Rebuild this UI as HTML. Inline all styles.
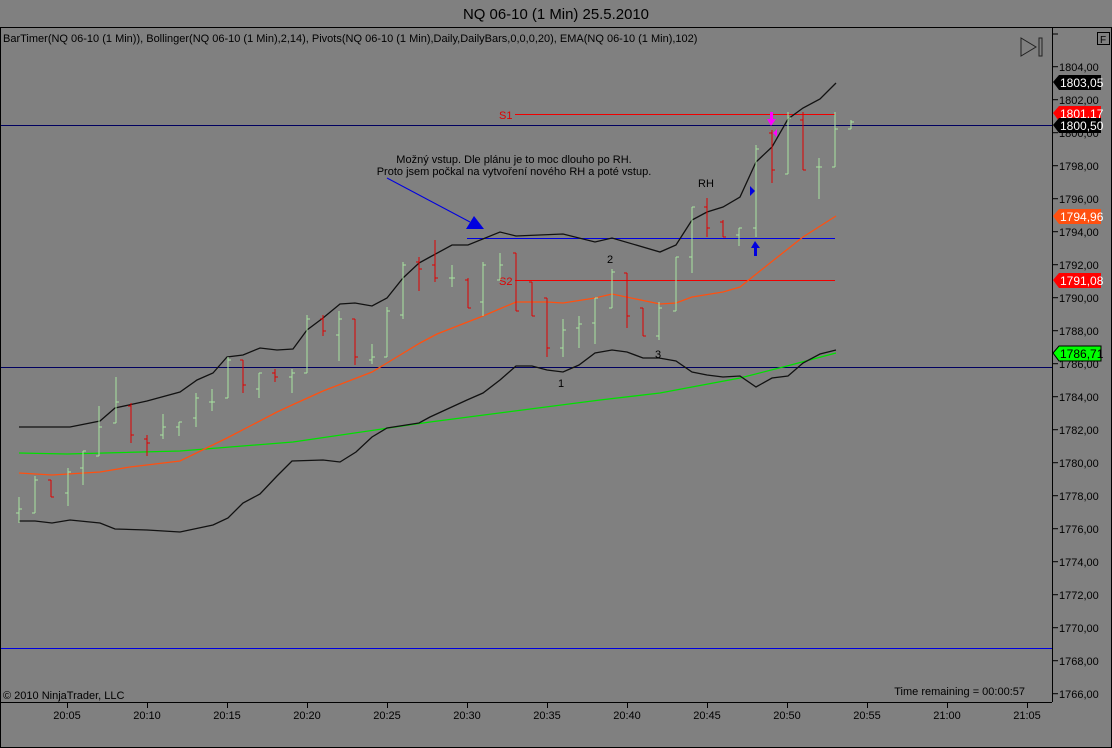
<!DOCTYPE html>
<html><head><meta charset="utf-8"><style>
html,body{margin:0;padding:0;background:#808080;}
svg{display:block;font-family:"Liberation Sans",sans-serif;}
</style></head><body>
<svg width="1112" height="748" viewBox="0 0 1112 748" xmlns="http://www.w3.org/2000/svg">
<rect width="1112" height="748" fill="#808080"/>
<text x="556" y="19" font-size="15" text-anchor="middle" fill="#000" textLength="186" lengthAdjust="spacingAndGlyphs">NQ 06-10 (1 Min)  25.5.2010</text>
<rect x="0.5" y="27.5" width="1111" height="720" fill="none" stroke="#000"/>
<text x="3" y="42" font-size="11" fill="#000">BarTimer(NQ 06-10 (1 Min)), Bollinger(NQ 06-10 (1 Min),2,14), Pivots(NQ 06-10 (1 Min),Daily,DailyBars,0,0,0,20), EMA(NQ 06-10 (1 Min),102)</text>
<rect x="1097.5" y="32.5" width="12" height="12" fill="none" stroke="#000"/>
<text x="1100" y="43" font-size="10" fill="#000">F</text>
<polygon points="1021,38 1021,56 1036,47" fill="none" stroke="#222" stroke-width="1"/>
<rect x="1039" y="38" width="3" height="18" fill="none" stroke="#222"/>
<line x1="1052.5" y1="28" x2="1052.5" y2="702" stroke="#000"/>
<line x1="0" y1="702.5" x2="1052" y2="702.5" stroke="#000"/>
<g stroke="#000">
<line x1="1052" y1="34" x2="1058" y2="34"/>
<line x1="1052" y1="66.7" x2="1058" y2="66.7"/><line x1="1052" y1="99.7" x2="1058" y2="99.7"/><line x1="1052" y1="132.7" x2="1058" y2="132.7"/><line x1="1052" y1="165.7" x2="1058" y2="165.7"/><line x1="1052" y1="198.7" x2="1058" y2="198.7"/><line x1="1052" y1="231.7" x2="1058" y2="231.7"/><line x1="1052" y1="264.7" x2="1058" y2="264.7"/><line x1="1052" y1="297.7" x2="1058" y2="297.7"/><line x1="1052" y1="330.7" x2="1058" y2="330.7"/><line x1="1052" y1="363.7" x2="1058" y2="363.7"/><line x1="1052" y1="396.7" x2="1058" y2="396.7"/><line x1="1052" y1="429.7" x2="1058" y2="429.7"/><line x1="1052" y1="462.7" x2="1058" y2="462.7"/><line x1="1052" y1="495.7" x2="1058" y2="495.7"/><line x1="1052" y1="528.7" x2="1058" y2="528.7"/><line x1="1052" y1="561.7" x2="1058" y2="561.7"/><line x1="1052" y1="594.7" x2="1058" y2="594.7"/><line x1="1052" y1="627.7" x2="1058" y2="627.7"/><line x1="1052" y1="660.7" x2="1058" y2="660.7"/><line x1="1052" y1="693.7" x2="1058" y2="693.7"/>
</g>
<g font-size="11" fill="#000">
<text x="1059" y="71">1804,00</text><text x="1059" y="104">1802,00</text><text x="1059" y="137">1800,00</text><text x="1059" y="170">1798,00</text><text x="1059" y="203">1796,00</text><text x="1059" y="236">1794,00</text><text x="1059" y="269">1792,00</text><text x="1059" y="302">1790,00</text><text x="1059" y="335">1788,00</text><text x="1059" y="368">1786,00</text><text x="1059" y="401">1784,00</text><text x="1059" y="434">1782,00</text><text x="1059" y="467">1780,00</text><text x="1059" y="500">1778,00</text><text x="1059" y="533">1776,00</text><text x="1059" y="566">1774,00</text><text x="1059" y="599">1772,00</text><text x="1059" y="632">1770,00</text><text x="1059" y="665">1768,00</text><text x="1059" y="698">1766,00</text>
</g>
<g stroke="#000">
<line x1="67.5" y1="702" x2="67.5" y2="708"/><line x1="147.5" y1="702" x2="147.5" y2="708"/><line x1="227.5" y1="702" x2="227.5" y2="708"/><line x1="307.5" y1="702" x2="307.5" y2="708"/><line x1="387.5" y1="702" x2="387.5" y2="708"/><line x1="467.5" y1="702" x2="467.5" y2="708"/><line x1="547.5" y1="702" x2="547.5" y2="708"/><line x1="627.5" y1="702" x2="627.5" y2="708"/><line x1="707.5" y1="702" x2="707.5" y2="708"/><line x1="787.5" y1="702" x2="787.5" y2="708"/><line x1="867.5" y1="702" x2="867.5" y2="708"/><line x1="947.5" y1="702" x2="947.5" y2="708"/><line x1="1027.5" y1="702" x2="1027.5" y2="708"/>
</g>
<g font-size="11" fill="#000" text-anchor="middle">
<text x="67" y="719">20:05</text><text x="147" y="719">20:10</text><text x="227" y="719">20:15</text><text x="307" y="719">20:20</text><text x="387" y="719">20:25</text><text x="467" y="719">20:30</text><text x="547" y="719">20:35</text><text x="627" y="719">20:40</text><text x="707" y="719">20:45</text><text x="787" y="719">20:50</text><text x="867" y="719">20:55</text><text x="947" y="719">21:00</text><text x="1027" y="719">21:05</text>
</g>
<text x="3" y="699" font-size="11" fill="#000">© 2010 NinjaTrader, LLC</text>
<text x="1025" y="695" font-size="11" fill="#000" text-anchor="end">Time remaining = 00:00:57</text>
<line x1="1" y1="125.5" x2="1052" y2="125.5" stroke="#000060"/>
<line x1="1" y1="367.5" x2="1052" y2="367.5" stroke="#000060"/>
<line x1="1" y1="648.5" x2="1052" y2="648.5" stroke="#0000e0"/>
<line x1="467" y1="238.5" x2="835" y2="238.5" stroke="#0000e0"/>
<line x1="515" y1="114.5" x2="835" y2="114.5" stroke="#f00000"/>
<line x1="515" y1="280.5" x2="835" y2="280.5" stroke="#f00000"/>
<text x="499" y="119" font-size="11" fill="#e00000">S1</text>
<text x="499" y="285" font-size="11" fill="#e00000">S2</text>
<polyline fill="none" stroke="#00e000" stroke-width="1.3" points="19,453 67,454 180,451 293,442 430,422 600,400 660,393 740,378 787,366 836,353"/>
<polyline fill="none" stroke="#ff5010" stroke-width="1.3" points="19,473 52,475 100,472 130,467 180,461 227,438 277,412 292,405 323,391 372,372 387,363 420,343 437,334 483,316 516,302 547,302 563,303 595,298 612,294 660,304 676,303 692,297 723,292 740,287 770,263 803,237 836,216"/>
<polyline fill="none" stroke="#111" stroke-width="1.3" points="19,427 70,427 100,421 115,408 147,401 180,392 197,380 213,373 227,357 243,355 260,348 277,350 293,349 307,330 323,318 340,304 355,303 372,306 387,298 403,278 419,263 430,257 452,245 468,245 500,232 516,236 563,234 595,242 612,238 660,252 676,245 692,220 707,212 723,207 740,197 756,162 772,147 788,119 803,108 820,99 836,83"/>
<polyline fill="none" stroke="#111" stroke-width="1.3" points="19,521 35,521 52,523 70,520 100,523 115,529 147,530 180,532 213,525 228,518 243,503 260,494 277,476 292,461 323,460 340,462 356,452 372,437 387,428 419,423 430,417 467,400 483,393 500,380 516,366 532,366 547,370 563,372 579,365 595,353 612,350 627,352 643,358 659,358 676,361 692,372 707,375 723,377 740,376 756,387 772,378 788,376 803,363 820,354 836,350"/>
<g stroke="#a8e4a0" stroke-width="1" fill="none" shape-rendering="crispEdges">
<path d="M19,497V523M16,513H19M19,509H22"/>
<path d="M35,476V513M32,513H35M35,480H38"/>
<path d="M68,468V506M65,493H68M68,472H71"/>
<path d="M83,451V485M80,468H83M83,451H86"/>
<path d="M99,406V456M96,456H99M99,427H102"/>
<path d="M116,377V423M113,423H116M116,402H119"/>
<path d="M163,414V439M160,435H163M163,427H166"/>
<path d="M179,422V436M176,427H179M179,422H182"/>
<path d="M196,393V427M193,418H196M196,398H199"/>
<path d="M212,389V411M209,402H212M212,402H215"/>
<path d="M228,357V398M225,398H228M228,360H231"/>
<path d="M259,373V398M256,389H259M259,373H262"/>
<path d="M292,369V393M289,377H292M292,373H295"/>
<path d="M307,315V373M304,373H307M307,319H310"/>
<path d="M339,311V361M336,335H339M339,319H342"/>
<path d="M372,344V364M369,360H372M372,357H375"/>
<path d="M387,307V357M384,357H387M387,311H390"/>
<path d="M403,262V319M400,315H403M403,265H406"/>
<path d="M452,265V287M449,278H452M452,278H455"/>
<path d="M483,262V316M480,302H483M483,265H486"/>
<path d="M500,253V280M497,280H500M500,265H503"/>
<path d="M563,319V357M560,348H563M563,330H566"/>
<path d="M579,316V348M576,328H579M579,324H582"/>
<path d="M595,298V344M592,323H595M595,298H598"/>
<path d="M612,269V308M609,308H612M612,272H615"/>
<path d="M659,302V340M656,336H659M659,308H662"/>
<path d="M676,257V311M673,311H676M676,257H679"/>
<path d="M692,207V273M689,257H692M692,207H695"/>
<path d="M739,228V246M736,235H739M739,228H742"/>
<path d="M756,145V237M753,228H756M756,149H759"/>
<path d="M788,112V174M785,174H788M788,118H791"/>
<path d="M819,158V199M816,167H819M819,167H822"/>
<path d="M835,112V167M832,167H835M835,129H838"/>
<path d="M851,120V129M848,129H851M851,122H854"/>
</g>
<g stroke="#e00000" stroke-width="1" fill="none" shape-rendering="crispEdges">
<path d="M51,480V497M48,480H51M51,497H54"/>
<path d="M131,403V443M128,406H131M131,435H134"/>
<path d="M147,435V456M144,439H147M147,443H150"/>
<path d="M243,360V393M240,360H243M243,385H246"/>
<path d="M275,369V382M272,373H275M275,377H278"/>
<path d="M323,315V336M320,319H323M323,331H326"/>
<path d="M355,319V365M352,319H355M355,357H358"/>
<path d="M419,257V291M416,262H419M419,269H422"/>
<path d="M435,240V282M432,265H435M435,278H438"/>
<path d="M468,278V308M465,280H468M468,308H471"/>
<path d="M516,253V311M513,253H516M516,311H519"/>
<path d="M532,282V316M529,282H532M532,316H535"/>
<path d="M547,298V357M544,298H547M547,348H550"/>
<path d="M627,273V328M624,273H627M627,316H630"/>
<path d="M643,308V336M640,308H643M643,336H646"/>
<path d="M707,198V237M704,207H707M707,228H710"/>
<path d="M723,220V237M720,222H723M723,237H726"/>
<path d="M772,130V183M769,133H772M772,170H775"/>
<path d="M803,112V170M800,120H803M803,170H806"/>
</g>
<g font-size="11" fill="#000" text-anchor="middle">
<text x="514" y="163">Možný vstup. Dle plánu je to moc dlouho po RH.</text>
<text x="514" y="175">Proto jsem počkal na vytvoření nového RH a poté vstup.</text>
<text x="706" y="187">RH</text>
<text x="610" y="263">2</text>
<text x="658" y="358">3</text>
<text x="561" y="387">1</text>
</g>
<line x1="387" y1="178" x2="470" y2="222" stroke="#0000e0"/>
<polygon points="474,216 466,229 484,229" fill="#0000e0"/>
<polygon points="750,186 750,196 755,191" fill="#0000e0"/>
<polygon points="755,241 751,248 754,248 754,256 757,256 757,248 760,248" fill="#0000e0"/>
<polygon points="771,126 767,119 770,119 770,112 773,112 773,119 776,119" fill="#ff00ff"/>
<polygon points="773,133 777,129 777,137" fill="#ff00ff"/>
<g font-size="12">
<polygon points="1053,82 1059,75 1101,75 1101,90 1059,90" fill="#000"/><text x="1060" y="87" fill="#fff">1803,05</text>
<polygon points="1053,113 1059,106 1101,106 1101,121 1059,121" fill="#ff0000"/><text x="1060" y="118" fill="#fff">1801.17</text>
<polygon points="1053,125 1059,118 1101,118 1101,133 1059,133" fill="#000"/><text x="1060" y="130" fill="#fff">1800,50</text>
<polygon points="1053,216 1059,209 1101,209 1101,224 1059,224" fill="#ff5010"/><text x="1060" y="221" fill="#fff">1794,96</text>
<polygon points="1053,280 1059,273 1101,273 1101,288 1059,288" fill="#ff0000"/><text x="1060" y="285" fill="#fff">1791,08</text>
<polygon points="1053,353 1059,346 1101,346 1101,361 1059,361" fill="#00ff00" stroke="#000"/><text x="1060" y="358" fill="#000">1786,71</text>
</g>
</svg>
</body></html>
